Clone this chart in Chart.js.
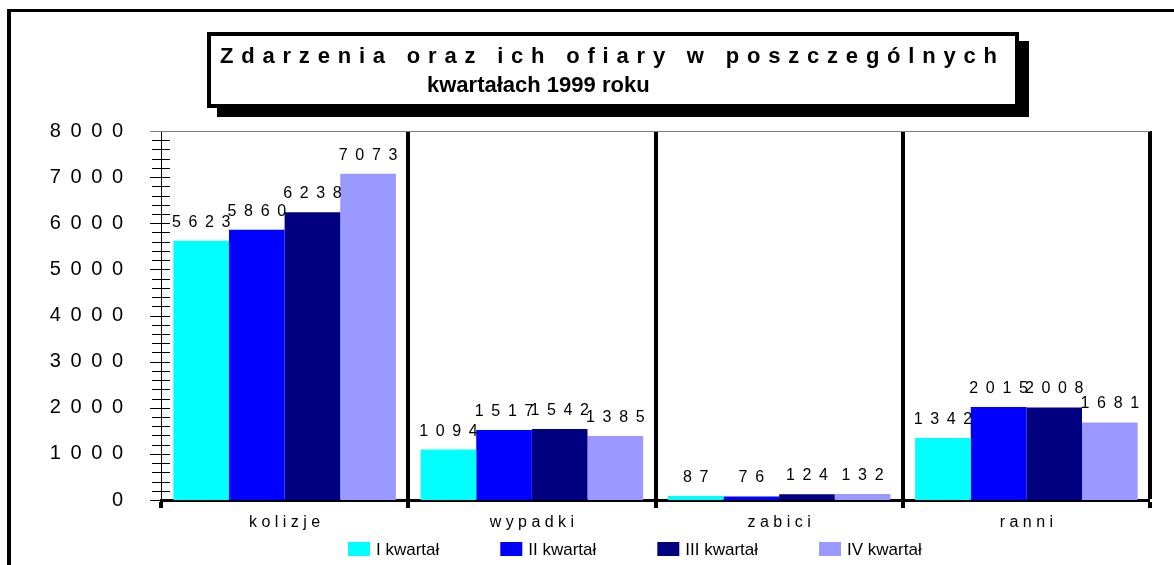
<!DOCTYPE html>
<html>
<head>
<meta charset="utf-8">
<script src="https://cdn.jsdelivr.net/npm/chart.js@4.4.0/dist/chart.umd.min.js"></script>
<style>
  body { margin: 0; background: #fff; }
  #wrap { position: relative; width: 1174px; height: 565px; overflow: hidden; }
  #chart { position: absolute; left: 0; top: 0; }
  #frame { position: absolute; left: 7px; top: 9px; width: 1300px; height: 700px;
           border-left: 4px solid #000; border-top: 3px solid #000; }
  #titleBox { position: absolute; left: 207px; top: 32px; width: 804px; height: 62px;
              border: 4px solid #000; background: #fff; box-shadow: 10px 9px 0 #000;
              font-family: 'Liberation Sans', Arial, sans-serif; font-weight: bold;
              font-size: 22px; line-height: 28px; padding-top: 6px; box-sizing: content-box; }
  #titleBox .l1 { padding-left: 9px; letter-spacing: 7.8px; white-space: nowrap; }
  #titleBox .l2 { padding-left: 216px; white-space: nowrap; margin-top: 1px; }
</style>
</head>
<body>
<div id="wrap">
  <canvas id="chart" width="1174" height="565"></canvas>
  <div id="frame"></div>
  <div id="titleBox">
    <div class="l1">Zdarzenia oraz ich ofiary w poszczególnych</div>
    <div class="l2">kwartałach 1999 roku</div>
  </div>
</div>
<script>
// data
const categories = ['kolizje', 'wypadki', 'zabici', 'ranni'];
const seriesNames = ['I kwartał', 'II kwartał', 'III kwartał', 'IV kwartał'];
const q1 = [5623, 1094, 87, 1342];
const q2 = [5860, 1517, 76, 2015];
const q3 = [6238, 1542, 124, 2008];
const q4 = [7073, 1385, 132, 1681];
const colors = ['#00FFFF', '#0000FF', '#000080', '#9999FF'];
const yMax = 8000;
const yMajor = 1000;
const yMinor = 200;

const FONT = "'Liberation Sans', Arial, sans-serif";
const GAP = ' \u2009';

// Excel-style spaced out text
function spaced(s, sep) {
    return String(s).split('').join(sep);
}

// data labels above each bar
const barLabels = {
    id: 'barLabels',
    afterDatasetsDraw(chart) {
        const ctx = chart.ctx;
        ctx.save();
        ctx.font = '16px ' + FONT;
        ctx.fillStyle = '#000';
        ctx.textAlign = 'center';
        ctx.textBaseline = 'alphabetic';
        chart.data.datasets.forEach((ds, i) => {
            chart.getDatasetMeta(i).data.forEach((bar, j) => {
                ctx.fillText(spaced(ds.data[j], GAP), bar.x, bar.y - 14);
            });
        });
        ctx.restore();
    }
};

// tick marks crossing the y axis (major + minor)
const crossTicks = {
    id: 'crossTicks',
    afterDraw(chart) {
        const y = chart.scales.y;
        const ctx = chart.ctx;
        const x0 = y.right;
        ctx.save();
        ctx.strokeStyle = '#000';
        ctx.lineWidth = 1;
        y.ticks.forEach(t => {
            const py = Math.round(y.getPixelForValue(t.value)) + 0.5;
            const major = t.value % yMajor === 0;
            ctx.beginPath();
            ctx.moveTo(x0 - (major ? 11 : 9), py);
            ctx.lineTo(x0 + 9, py);
            ctx.stroke();
        });
        // top border of the plot starts left of the axis
        ctx.strokeStyle = '#808080';
        const top = Math.round(y.top) + 0.5;
        ctx.beginPath();
        ctx.moveTo(x0 - 11, top);
        ctx.lineTo(chart.chartArea.right, top);
        ctx.stroke();
        ctx.restore();
    }
};

// legend laid out like the original one
const bottomLegend = {
    id: 'bottomLegend',
    afterDraw(chart) {
        const ctx = chart.ctx;
        ctx.save();
        ctx.font = '17px ' + FONT;
        ctx.textBaseline = 'alphabetic';
        ctx.textAlign = 'left';
        let x = 348;
        const top = 542;
        chart.data.datasets.forEach(ds => {
            ctx.fillStyle = ds.backgroundColor;
            ctx.fillRect(x, top, 22, 14);
            ctx.fillStyle = '#000';
            ctx.fillText(ds.label, x + 28, top + 13);
            x += 28 + ctx.measureText(ds.label).width + 61;
        });
        ctx.restore();
    }
};

new Chart(document.getElementById('chart').getContext('2d'), {
    type: 'bar',
    data: {
        labels: categories,
        datasets: [q1, q2, q3, q4].map((d, i) => ({
            label: seriesNames[i],
            data: d,
            backgroundColor: colors[i],
            borderWidth: 0,
            categoryPercentage: 0.9,
            barPercentage: 1.0
        }))
    },
    options: {
        responsive: false,
        animation: false,
        layout: {
            padding: { top: 131, right: 24, left: 50, bottom: 25 }
        },
        plugins: {
            legend: { display: false },
            tooltip: { enabled: false },
            title: { display: false }
        },
        scales: {
            x: {
                offset: true,
                grid: {
                    offset: true,
                    color: '#000',
                    lineWidth: ctx => ctx.index === 0 ? 0 : 4,
                    tickWidth: 4,
                    tickLength: 8,
                    tickColor: '#000'
                },
                border: { display: true, color: '#000', width: 3 },
                ticks: {
                    color: '#000',
                    font: { family: FONT, size: 16 },
                    padding: 5,
                    autoSkip: false,
                    maxRotation: 0,
                    callback: (v, i) => spaced(categories[i], ' ')
                },
                afterFit: s => { s.height = 40; }
            },
            y: {
                min: 0,
                max: yMax,
                grid: {
                    drawTicks: false,
                    color: '#808080',
                    lineWidth: 0
                },
                border: { display: true, color: '#000', width: 1 },
                ticks: {
                    stepSize: yMinor,
                    autoSkip: false,
                    padding: 38,
                    color: '#000',
                    font: { family: FONT, size: 20 },
                    callback: v => v % yMajor === 0 ? spaced(v, GAP) : ''
                },
                afterFit: s => { s.width = 111; }
            }
        }
    },
    plugins: [barLabels, crossTicks, bottomLegend]
});
</script>
</body>
</html>
